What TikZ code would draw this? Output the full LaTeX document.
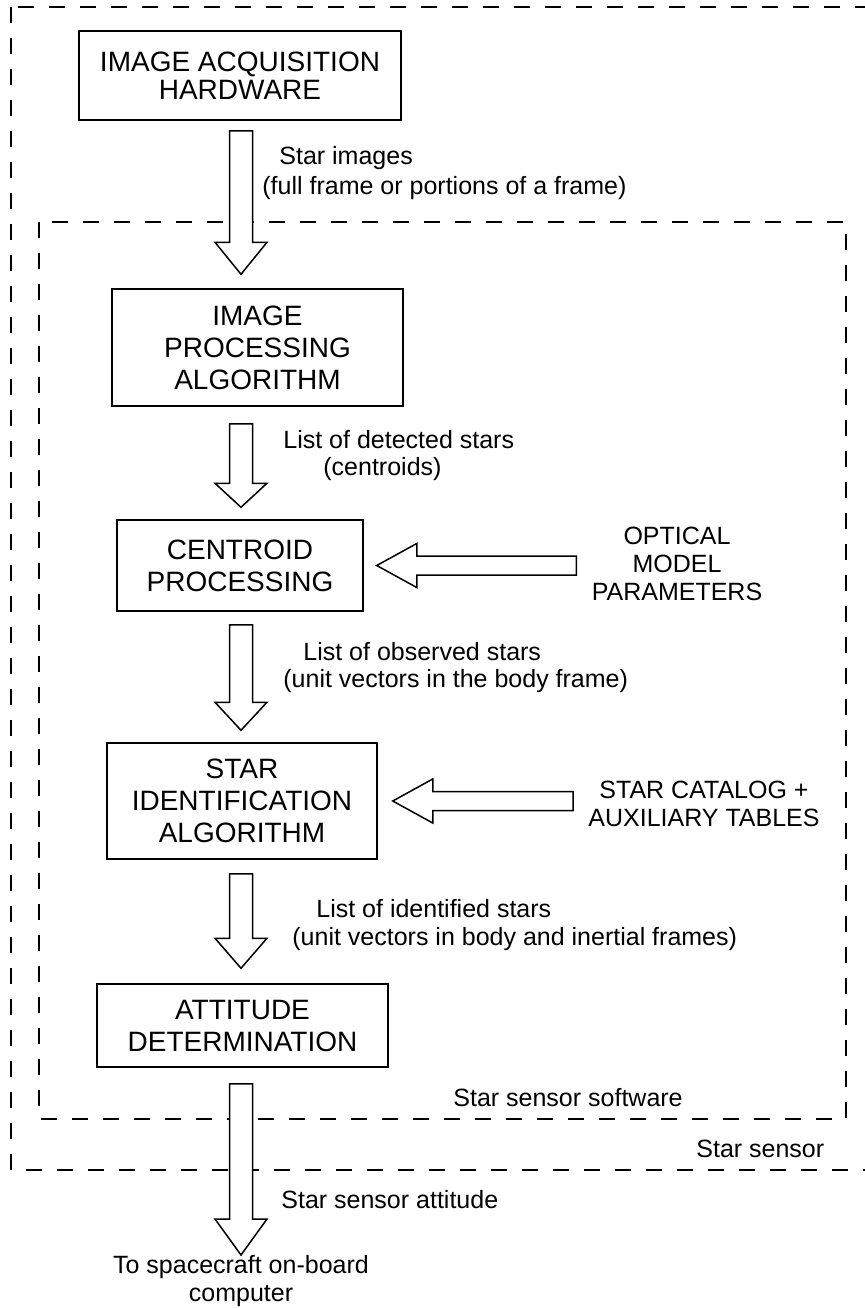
\documentclass[tikz,border=0pt]{standalone}
\usepackage{fontspec}
\setmainfont{Liberation Sans}
\usetikzlibrary{calc,positioning}
\tikzset{
  ssBox/.style={
    draw=black,
    line width=0.75pt,
    align=center,
    font=\fontsize{14}{16}\selectfont,
    inner sep=0pt
  },
  ssLabel/.style={anchor=mid west, inner sep=0pt, font=\fontsize{12.5}{14}\selectfont},
  ssSide/.style={align=center, inner sep=0pt, font=\fontsize{12.5}{14}\selectfont},
  ssFrame/.style={line width=0.85pt, dash pattern=on 8pt off 7.5pt},
  ssFat/.style={draw=black, fill=white, line width=0.75pt, line join=miter}
}
% hollow block arrow: start, end, shaft half width, head half width, head length
\newcommand{\fatarrow}[5]{%
  \coordinate (fatS) at (#1);
  \coordinate (fatE) at (#2);
  \coordinate (fatH) at ($(fatE)!#5!(fatS)$);
  \draw[ssFat] ($(fatS)!#3!90:(fatE)$) -- ($(fatH)!#3!-90:(fatS)$)
    -- ($(fatH)!#4!-90:(fatS)$) -- (fatE) -- ($(fatH)!#4!90:(fatS)$)
    -- ($(fatH)!#3!90:(fatS)$) -- ($(fatS)!#3!-90:(fatE)$) -- cycle;
}
\begin{document}
\begin{tikzpicture}[x=0.5pt, y=-0.5pt]
  \clip (0,0) rectangle (865,1308);

  % sensor and software frames
  \draw[ssFrame] (11,7) rectangle (890,1170);
  \draw[ssFrame] (39,222) rectangle (846,1119);

  \node[ssBox, minimum width=161pt, minimum height=44.5pt,
    font=\fontsize{14}{14}\selectfont] (hw) at (240,75.5)
    {IMAGE ACQUISITION\\HARDWARE};
  \node[ssBox, minimum width=145.5pt, minimum height=58.5pt] (ipa) at (257.5,347.5)
    {IMAGE\\PROCESSING\\ALGORITHM};
  \node[ssBox, minimum width=123pt, minimum height=45.5pt] (cen) at (240,565.5)
    {CENTROID\\PROCESSING};
  \node[ssBox, minimum width=135pt, minimum height=58pt] (sid) at (242,801)
    {STAR\\IDENTIFICATION\\ALGORITHM};
  \node[ssBox, minimum width=145.5pt, minimum height=41.5pt] (att) at (242.5,1025.5)
    {ATTITUDE\\DETERMINATION};

  \node[ssSide] (opt) at (677,564) {OPTICAL\\MODEL\\PARAMETERS};
  \node[ssSide] (cat) at (704,804) {STAR CATALOG +\\AUXILIARY TABLES};
  \node[ssSide, anchor=north] (obc) at (241,1255) {To spacecraft on-board\\computer};

  \node[ssLabel] (imgA) at (279,159) {Star images};
  \node[ssLabel] (imgB) at (262,189) {(full frame or portions of a frame)};
  \node[ssLabel] (detA) at (283,443) {List of detected stars};
  \node[ssLabel] (detB) at (323,470) {(centroids)};
  \node[ssLabel] (obsA) at (303,655) {List of observed stars};
  \node[ssLabel] (obsB) at (283,682) {(unit vectors in the body frame)};
  \node[ssLabel] (idA) at (316,912) {List of identified stars};
  \node[ssLabel] (idB) at (292,940) {(unit vectors in body and inertial frames)};
  \node[ssLabel] (swLab) at (453,1101) {Star sensor software};
  \node[ssLabel] (snLab) at (696,1152) {Star sensor};
  \node[ssLabel] (attLab) at (281,1203) {Star sensor attitude};

  \coordinate (col) at (241,0);
  \fatarrow{$(hw.south -| col)+(0,10)$}{$(ipa.north -| col)+(0,-14)$}{5.75pt}{13pt}{16pt}
  \fatarrow{$(ipa.south -| col)+(0,17)$}{$(cen.north -| col)+(0,-12)$}{5.75pt}{13pt}{12pt}
  \fatarrow{$(cen.south -| col)+(0,13)$}{$(sid.north -| col)+(0,-12)$}{5.75pt}{13pt}{14pt}
  \fatarrow{$(sid.south -| col)+(0,14)$}{$(att.north -| col)+(0,-15)$}{5.75pt}{13pt}{15pt}
  \fatarrow{$(att.south -| col)+(0,16)$}{obc.north}{5.75pt}{13pt}{18pt}

  \fatarrow{$(opt.west |- cen.east)+(-15,0)$}{$(cen.east)+(13,0)$}{4.75pt}{11pt}{20pt}
  \fatarrow{$(cat.west |- sid.east)+(-15,0)$}{$(sid.east)+(15,0)$}{4.75pt}{11pt}{20pt}
\end{tikzpicture}
\end{document}
